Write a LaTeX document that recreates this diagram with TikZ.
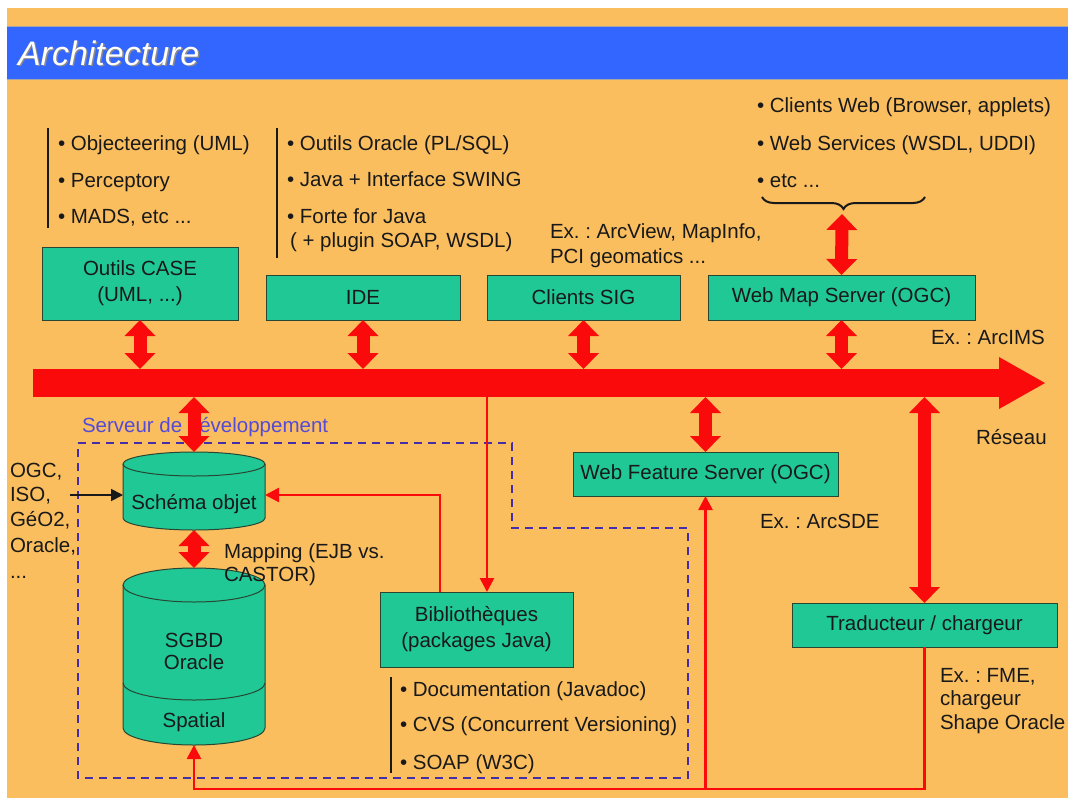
\documentclass[tikz,border=0pt]{standalone}
\usepackage{fontspec}
\setmainfont{Liberation Sans}
\frenchspacing
\usetikzlibrary{arrows.meta,decorations.pathreplacing,calc}
\definecolor{bgorange}{RGB}{250,190,95}
\definecolor{titleblue}{RGB}{51,102,255}
\definecolor{boxg}{RGB}{32,200,150}
\definecolor{boxline}{RGB}{40,70,50}
\definecolor{arrred}{RGB}{250,10,10}
\definecolor{txtc}{RGB}{25,25,25}
\definecolor{dashc}{RGB}{70,45,170}
\definecolor{servc}{RGB}{85,75,215}
\begin{document}
\begin{tikzpicture}[x=1pt,y=-1pt,
  every node/.style={inner sep=0pt, outer sep=0pt},
  txt/.style={font=\fontsize{20.5}{24}\selectfont, text=txtc, anchor=base west},
  ctxt/.style={font=\fontsize{20.5}{24}\selectfont, text=txtc, anchor=base},
  box/.style={draw=boxline, line width=1pt, fill=boxg, font=\fontsize{20.5}{26}\selectfont, text=txtc, align=center},
  dbl/.style={draw=arrred, line width=13pt, {Triangle[length=16pt,width=30pt]}-{Triangle[length=16pt,width=30pt]}},
  redline/.style={draw=arrred, line width=2.6pt},
  redtip/.style={-{Triangle[length=14pt,width=14pt]}},
  listbar/.style={draw=txtc, line width=2.6pt},
  dashbox/.style={draw=dashc, line width=1.7pt, dash pattern=on 8pt off 6pt},
  cyl/.style={draw=boxline, line width=1pt},
]
\useasboundingbox (0,0) rectangle (1068,798);
\fill[white] (0,0) rectangle (1068,798);
\fill[bgorange] (7,8) rectangle (1068,798);
\fill[titleblue] (7,26) rectangle (1068,79);
\draw[black!35, line width=1pt] (7,26) -- (1068,26) (7,79) -- (1068,79);
\node[anchor=base west, font=\fontsize{34}{40}\selectfont\itshape, text=black!45] (titleshadow) at (19.5,66.5) {Architecture};
\node[anchor=base west, font=\fontsize{34}{40}\selectfont\itshape, text=white] (title) at (18,65) {Architecture};

% bullet lists
\draw[listbar] (48,128) -- (48,228);
\node[txt] (l1a) at (58,150) {• Objecteering (UML)};
\node[txt] (l1b) at (58,187) {• Perceptory};
\node[txt] (l1c) at (58,223) {• MADS, etc ...};
\draw[listbar] (277,128) -- (277,258);
\node[txt] (l2a) at (287,150) {• Outils Oracle (PL/SQL)};
\node[txt] (l2b) at (287,186) {• Java + Interface SWING};
\node[txt] (l2c) at (287,223) {• Forte for Java};
\node[txt] (l2d) at (290,247) {( + plugin SOAP, WSDL)};
\node[txt] (exv1) at (550,238) {Ex. : ArcView, MapInfo,};
\node[txt] (exv2) at (550,263) {PCI geomatics ...};
\node[txt] (l3a) at (757,112) {• Clients Web (Browser, applets)};
\node[txt] (l3b) at (757,150) {• Web Services (WSDL, UDDI)};
\node[txt] (l3c) at (757,187) {• etc ...};
\draw[txtc, line width=2pt, decorate, decoration={brace, mirror, amplitude=12pt}] (762,197) -- (925,197);
\coordinate (bracetip) at (842,214);

% top boxes
\node[box, minimum width=196, minimum height=73] (case) at (140,283.5) {Outils CASE\\(UML, ...)};
\node[box, minimum width=194, minimum height=45] (ide) at (363,297.5) {IDE};
\node[box, minimum width=193, minimum height=45] (sig) at (583.5,297.5) {Clients SIG};
\node[box, minimum width=267, minimum height=45] (wms) at (841.5,297.5) {Web Map Server (OGC)};
\node[txt] (arcims) at (931,344) {Ex. : ArcIMS};

% network bus
\node[fill=arrred, minimum width=967, minimum height=28, anchor=west] (bus) at (33,383) {};
\fill[arrred] ($(bus.east)+(-1,-26)$) -- ($(bus.east)+(45,0)$) -- ($(bus.east)+(-1,26)$) -- cycle;
\node[txt] (reseau) at (976,444) {Réseau};

\draw[dbl] (bracetip) -- (wms.north);
\draw[dbl] (case.south) -- (case.south |- bus.north);
\draw[dbl] (ide.south) -- (ide.south |- bus.north);
\draw[dbl] (sig.south) -- (sig.south |- bus.north);
\draw[dbl] (wms.south) -- (wms.south |- bus.north);

% development server
\draw[dashbox] (78,443) -- (512,443) -- (512,528) -- (688,528) -- (688,778) -- (78,778) -- cycle;
\node[anchor=base west, font=\fontsize{20.5}{24}\selectfont, text=servc] (serveur) at (82,432) {Serveur de développement};

% Schema objet cylinder
\fill[boxg] (123,464) rectangle (265,518);
\fill[boxg] (194,518) ellipse [x radius=71, y radius=12];
\fill[boxg] (194,464) ellipse [x radius=71, y radius=12];
\draw[cyl] (194,464) ellipse [x radius=71, y radius=12];
\draw[cyl] (123,464) -- (123,518) arc[start angle=180, end angle=0, x radius=71, y radius=12] -- (265,464);
\node[minimum width=142, minimum height=78] (schema) at (194,491) {};
\node[ctxt] (schemalbl) at (194,509) {Schéma objet};

% SGBD cylinder
\fill[boxg] (123,585) rectangle (265,728);
\fill[boxg] (194,728) ellipse [x radius=71, y radius=17];
\fill[boxg] (194,585) ellipse [x radius=71, y radius=17];
\draw[cyl] (194,585) ellipse [x radius=71, y radius=17];
\draw[cyl] (123,585) -- (123,728) arc[start angle=180, end angle=0, x radius=71, y radius=17] -- (265,585);
\draw[cyl] (123,683) arc[start angle=180, end angle=0, x radius=71, y radius=17];
\node[minimum width=142, minimum height=177] (sgbd) at (194,656.5) {};
\node[ctxt] (sgbdlbl) at (194,647) {SGBD};
\node[ctxt] (oraclelbl) at (194,669) {Oracle};
\node[ctxt] (spatiallbl) at (194,727) {Spatial};

\draw[dbl] (schema.south) -- (sgbd.north);
\draw[dbl] (schema.north |- bus.south) -- (schema.north);
\node[txt] (map1) at (224,558) {Mapping (EJB vs.};
\node[txt] (map2) at (224,581) {CASTOR)};

% standards
\node[txt] (s1) at (10,477) {OGC,};
\node[txt] (s2) at (10,501) {ISO,};
\node[txt] (s3) at (10,526) {GéO2,};
\node[txt] (s4) at (10,552) {Oracle,};
\node[txt] (s5) at (10,578) {...};
\coordinate (stdfrom) at (70,495);
\draw[txtc, line width=1.8pt, -{Triangle[length=12pt,width=12pt]}] (stdfrom) -- (schema.west |- stdfrom);

% Bibliotheques
\node[box, minimum width=193, minimum height=75] (bib) at (476.5,629.5) {Bibliothèques\\(packages Java)};
\coordinate (bibin) at ($(bib.north)+(10.5,0)$);
\coordinate (bibout) at ($(bib.north)+(-36.5,0)$);
\draw[listbar] (391,677) -- (391,773);
\node[txt] (l4a) at (400,696) {• Documentation (Javadoc)};
\node[txt] (l4b) at (400,731) {• CVS (Concurrent Versioning)};
\node[txt] (l4c) at (400,769) {• SOAP (W3C)};
\draw[redline, redtip] (bus.south -| bibin) -- (bibin);
\draw[redline, redtip] (bibout) |- (schema.east |- stdfrom);

% WFS and Traducteur
\node[box, minimum width=265, minimum height=44] (wfs) at (705.5,474) {Web Feature Server (OGC)};
\node[txt] (arcsde) at (760,528) {Ex. : ArcSDE};
\draw[dbl] (wfs.north |- bus.south) -- (wfs.north);
\node[box, minimum width=265, minimum height=44] (trad) at (924.5,625) {Traducteur / chargeur};
\draw[dbl] (trad.north |- bus.south) -- (trad.north);
\node[txt] (fme1) at (940,682) {Ex. : FME,};
\node[txt] (fme2) at (940,705) {chargeur};
\node[txt] (fme3) at (940,729) {Shape Oracle};

\coordinate (botL) at (194,789);
\draw[redline, redtip] (trad.south) |- (botL) -- (sgbd.south);
\draw[redline, redtip] (wfs.south |- botL) -- (wfs.south);
\end{tikzpicture}
\end{document}
